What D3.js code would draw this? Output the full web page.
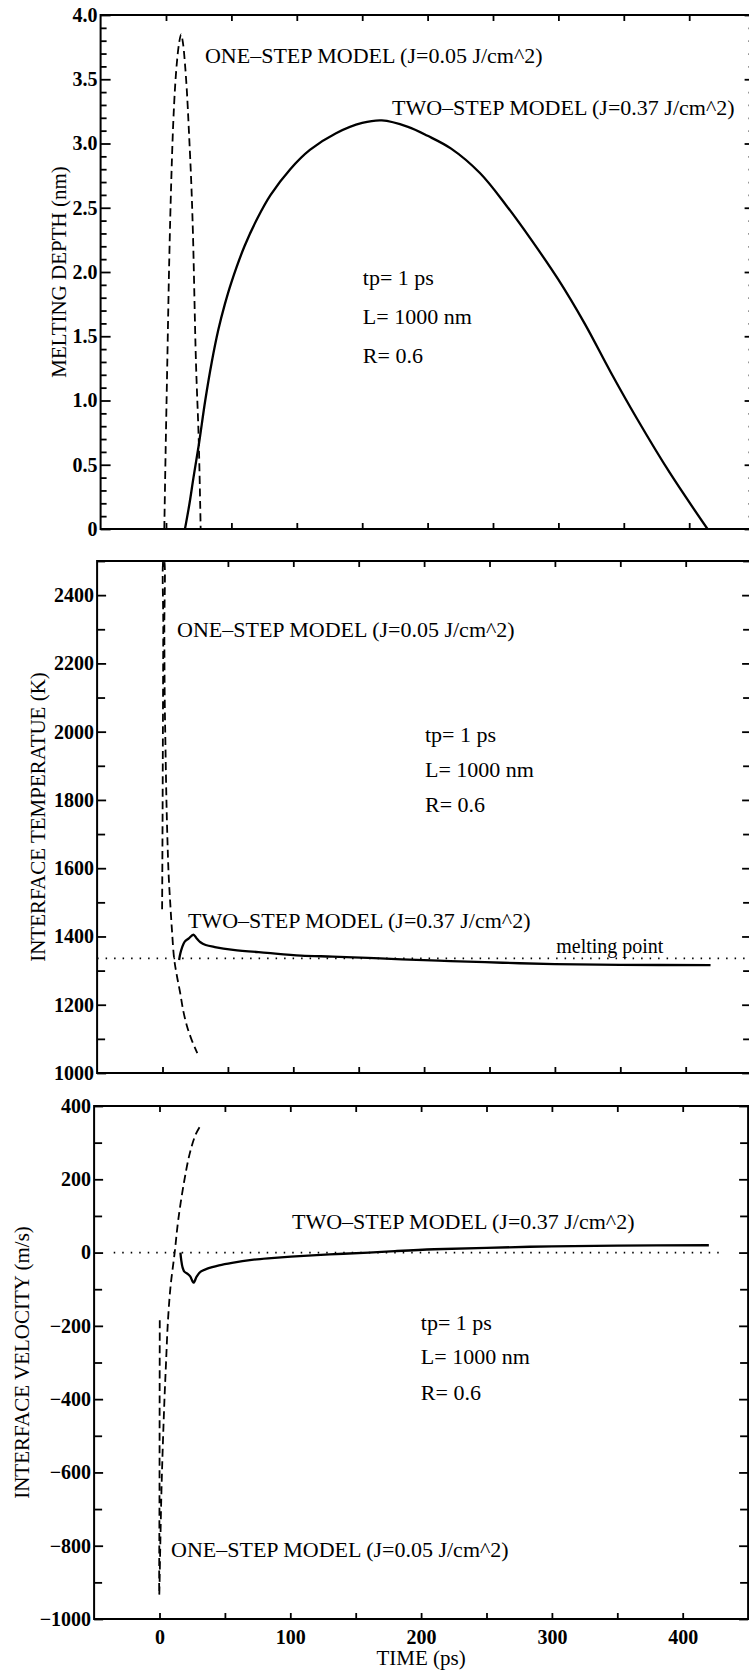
<!DOCTYPE html>
<html>
<head>
<meta charset="utf-8">
<script src="https://cdn.jsdelivr.net/npm/d3@7"></script>
<style>
  body { margin: 0; background: #fff; }
  svg { display: block; }
  text { font-family: "Liberation Serif", "Times New Roman", serif; fill: #000; }
</style>
</head>
<body>
<div class="graph-container"></div>
<script>
// ---- data (time in ps) ----
const timeTickValues = [0, 50, 100, 150, 200, 250, 300, 350, 400];
const timeLabelValues = [0, 100, 200, 300, 400];
const timeLabels = ["0", "100", "200", "300", "400"];

const depthMajor = [0, 0.5, 1.0, 1.5, 2.0, 2.5, 3.0, 3.5, 4.0];
const depthLabels = ["0", "0.5", "1.0", "1.5", "2.0", "2.5", "3.0", "3.5", "4.0"];
const tempMajor = [1000, 1200, 1400, 1600, 1800, 2000, 2200, 2400];
const tempLabels = ["1000", "1200", "1400", "1600", "1800", "2000", "2200", "2400"];
const velMajor = [-1000, -800, -600, -400, -200, 0, 200, 400];
const velLabels = ["\u22121000", "\u2212800", "\u2212600", "\u2212400", "\u2212200", "0", "200", "400"];

// melting depth (nm)
const depthOneStep = [[-1.3,0],[-0.3,0.6],[1,1.3],[2.5,2.1],[4,2.7],[5.5,3.15],[7,3.45],[8.5,3.65],[10,3.78],
  [11.5,3.85],[13,3.78],[14.5,3.62],[16,3.4],[17.5,3.1],[19.3,2.7],[20.6,2.3],[22.9,1.3],[25,0.7],[26.5,0]];
const depthTwoStep = [[14.5,0],[18,0.2],[21,0.4],[25,0.65],[30,1.0],[35,1.3],[40,1.55],[45,1.75],[50,1.92],
  [60,2.2],[70,2.42],[80,2.6],[95,2.8],[110,2.95],[130,3.08],[150,3.16],[165,3.18],[185,3.13],[200,3.06],
  [218,2.96],[240,2.77],[260,2.52],[280,2.24],[300,1.94],[320,1.6],[340,1.22],[360,0.86],[385,0.44],[414,0]];

// interface temperature (K)
const tempOneStep = [[-0.3,1480],[0,1700],[0.3,2000],[0.6,2300],[0.8,2500],[1.2,2500],[1.4,2300],[1.7,2100],
  [2.3,1950],[3,1800],[3.8,1680],[4.7,1580],[5.8,1505],[7.2,1420],[8.9,1335],[11,1285],[13.5,1235],
  [16,1180],[18.9,1135],[22,1100],[26.6,1058]];
const tempTwoStep = [[12.7,1331],[13.5,1348],[15,1368],[17,1385],[20,1394],[23.6,1405],[26,1395],[29,1383],
  [33,1375],[40,1369],[54,1361],[80,1352],[106,1344],[130,1341],[157,1337],[183,1333],[220,1328],
  [260,1323],[300,1319],[350,1317],[419,1316]];
const meltingPoint = [[-50,1336],[450,1336]];

// interface velocity (m/s)
const velOneStep = [[0.2,-185],[0.1,-400],[0,-650],[-0.2,-934],[0.6,-800],[1.5,-650],[2.6,-520],[3.8,-400],
  [5,-300],[6.4,-190],[8.4,-94],[11.6,0],[14.3,88],[18.6,189],[23.1,270],[27.5,321],[31.7,349]];
const velTwoStep = [[16,0],[16.6,-20],[17.6,-40],[19,-52],[21.5,-58],[23.5,-65],[26,-82],[28.5,-65],
  [31.5,-52],[36.5,-44],[45.5,-35],[55.5,-28],[70.5,-20],[85.5,-15],[100.5,-11],[130,-5],[160,0],
  [180,4],[210,9],[250,13],[300,17],[350,19],[420,20]];
const velZero = [[-35,0],[428,0]];

const oneStepLabel = "ONE\u2013STEP MODEL (J=0.05 J/cm^2)";
const twoStepLabel = "TWO\u2013STEP MODEL (J=0.37 J/cm^2)";
const paramLabels = ["tp= 1 ps", "L= 1000 nm", "R= 0.6"];

// ---- layout ----
let dims = { width: 749, height: 1671, plotWidth: 654 };

const svg = d3.select(".graph-container")
  .append("svg")
  .attr("width", dims.width)
  .attr("height", dims.height);

const x = d3.scaleLinear().domain([-50, 450]).range([0, dims.plotWidth]);

const panels = [
  { id: "depth", left: 100.6, top: 15, bottom: 529, domain: [0, 4], titleX: 59,
    title: "MELTING DEPTH (nm)", major: depthMajor, labels: depthLabels, minorStep: 0.1,
    majorLen: 10, minorLen: 6,
    series: [{ data: depthOneStep, style: "dash" }, { data: depthTwoStep, style: "solid" }],
    notes: [{ t: 29.8, v: 3.63, text: oneStepLabel }, { t: 172.8, v: 3.22, text: twoStepLabel }],
    params: { t: 150.5, v: [1.9, 1.595, 1.29] } },
  { id: "temp", left: 97.1, top: 561, bottom: 1073, domain: [1000, 2500], titleX: 38,
    title: "INTERFACE TEMPERATUE (K)", major: tempMajor, labels: tempLabels, minorStep: 100,
    majorLen: 9, minorLen: 8,
    series: [{ data: meltingPoint, style: "dot" }, { data: tempOneStep, style: "dash" }, { data: tempTwoStep, style: "solid" }],
    notes: [{ t: 11.1, v: 2277, text: oneStepLabel }, { t: 19.5, v: 1425, text: twoStepLabel },
            { t: 301, v: 1352, text: "melting point", size: 20 }],
    params: { t: 200.7, v: [1970, 1867, 1765] } },
  { id: "vel", left: 94.1, top: 1106, bottom: 1619, domain: [-1000, 400], titleX: 22,
    title: "INTERFACE VELOCITY (m/s)", major: velMajor, labels: velLabels, minorStep: 100,
    majorLen: 9, minorLen: 8,
    series: [{ data: velZero, style: "dot" }, { data: velOneStep, style: "dash" }, { data: velTwoStep, style: "solid" }],
    notes: [{ t: 101.3, v: 64, text: twoStepLabel }, { t: 8.8, v: -831, text: oneStepLabel }],
    params: { t: 199.8, v: [-211, -304, -402] },
    xLabels: true }
];

const lineStyles = {
  solid: { width: 2.3, dash: null },
  dash: { width: 1.8, dash: "8,4.5" },
  dot: { width: 1.7, dash: "1.5,7" }
};

let styleAxis = (sel) => {
  sel.select(".domain").remove();
  sel.selectAll("line").attr("stroke", "#000").attr("stroke-width", 1.8);
  sel.selectAll("text").attr("font-family", "Liberation Serif, serif").attr("font-size", 20)
    .attr("font-weight", "bold").attr("fill", "#000");
};

panels.forEach((p) => {
  const h = p.bottom - p.top;
  const y = d3.scaleLinear().domain(p.domain).range([h, 0]);
  const g = svg.append("g").attr("transform", `translate(${p.left},${p.top})`);

  const minor = d3.range(p.domain[0], p.domain[1] + p.minorStep / 2, p.minorStep)
    .map(d => +d.toFixed(3)).filter(d => !p.major.includes(d));

  // ticks, left / right
  g.append("g").call(d3.axisLeft(y).tickValues(minor).tickSize(-p.minorLen).tickFormat("")).call(styleAxis);
  g.append("g").call(d3.axisLeft(y).tickValues(p.major).tickSize(-p.majorLen).tickPadding(3)
    .tickFormat((d, i) => p.labels[i])).call(styleAxis);
  g.append("g").attr("transform", `translate(${dims.plotWidth},0)`)
    .call(d3.axisRight(y).tickValues(minor).tickSize(-p.minorLen).tickFormat("")).call(styleAxis);
  g.append("g").attr("transform", `translate(${dims.plotWidth},0)`)
    .call(d3.axisRight(y).tickValues(p.major).tickSize(-p.majorLen).tickFormat("")).call(styleAxis);

  // ticks, top / bottom
  g.append("g").call(d3.axisTop(x).tickValues(timeTickValues).tickSize(-6).tickFormat("")).call(styleAxis);
  g.append("g").attr("transform", `translate(0,${h})`)
    .call(d3.axisBottom(x).tickValues(timeTickValues).tickSize(-6).tickFormat("")).call(styleAxis);
  if (p.xLabels) {
    g.append("g").attr("transform", `translate(0,${h})`)
      .call(d3.axisBottom(x).tickValues(timeLabelValues).tickSize(0).tickPadding(11)
        .tickFormat((d, i) => timeLabels[i])).call(styleAxis);
    g.append("text").attr("x", x(200)).attr("y", h + 46).attr("text-anchor", "middle")
      .attr("font-size", 21).text("TIME (ps)");
  }

  // frame
  g.append("rect").attr("width", dims.plotWidth).attr("height", h)
    .attr("fill", "none").attr("stroke", "#000").attr("stroke-width", 2);

  // curves
  g.append("clipPath").attr("id", `clip-${p.id}`)
    .append("rect").attr("width", dims.plotWidth).attr("height", h);

  const line = d3.line().x(d => x(d[0])).y(d => y(d[1])).curve(d3.curveCatmullRom.alpha(0.5));

  g.selectAll("path.curve").data(p.series).enter().append("path")
    .attr("class", "curve")
    .attr("clip-path", `url(#clip-${p.id})`)
    .attr("d", d => line(d.data))
    .attr("fill", "none")
    .attr("stroke", "#000")
    .attr("stroke-width", d => lineStyles[d.style].width)
    .attr("stroke-dasharray", d => lineStyles[d.style].dash)
    .attr("stroke-linejoin", "round");

  // annotations
  g.selectAll("text.note").data(p.notes).enter().append("text")
    .attr("class", "note")
    .attr("x", d => x(d.t)).attr("y", d => y(d.v))
    .attr("font-size", d => d.size || 22)
    .text(d => d.text);

  g.selectAll("text.param").data(paramLabels).enter().append("text")
    .attr("class", "param")
    .attr("x", x(p.params.t)).attr("y", (d, i) => y(p.params.v[i]))
    .attr("font-size", 22)
    .text(d => d);

  // y title
  svg.append("text")
    .attr("transform", `translate(${p.titleX + 7},${(p.top + p.bottom) / 2}) rotate(-90)`)
    .attr("text-anchor", "middle")
    .attr("font-size", 21)
    .text(p.title);
});
</script>
</body>
</html>
